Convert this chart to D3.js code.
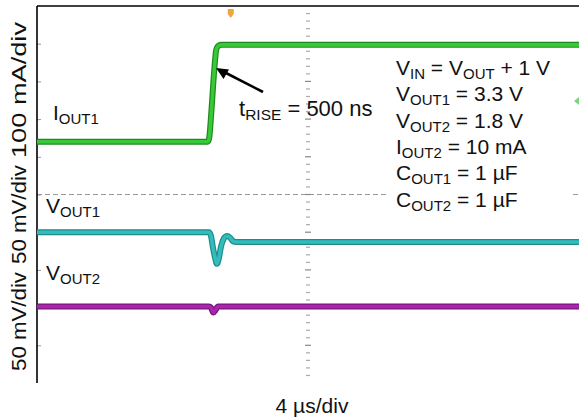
<!DOCTYPE html>
<html><head><meta charset="utf-8">
<script src="https://cdn.jsdelivr.net/npm/d3@7"></script>
<style>
html,body{margin:0;padding:0;background:#fff;}
svg{display:block;font-family:"Liberation Sans",Arial,Helvetica,sans-serif;}
</style></head>
<body>
<svg id="chart" width="579" height="420"></svg>
<script>
// ---- data (read from the scope capture) ----
// time in microseconds (4 us/div, 10 divisions)
const iout1Time = [0, 12.6, 12.7, 12.85, 13.0, 13.15, 13.22, 13.35, 13.6, 40];
const iout1mA   = [0, 0, 8, 70, 150, 220, 243, 253, 257, 257];

const vout1Time = [0, 12.69, 12.84, 12.99, 13.14, 13.28, 13.43, 13.58, 13.8, 14.02, 14.24, 14.47, 14.69, 40];
const vout1mV   = [0, 0, -5, -21, -34, -42, -34, -19, -8, -5, -7, -12, -13, -13];

const vout2Time = [0, 12.69, 12.84, 13.01, 13.17, 13.36, 40];
const vout2mV   = [0, 0, -1.5, -8, -5, 0, 0];

const yAxisLabels = ["100 mA/div", "50 mV/div", "50 mV/div"];
const xAxisLabel = "4 \u00b5s/div";
const noteLines = [
  [["V",0],["IN",1],[" = V",0],["OUT",1],[" + 1 V",0]],
  [["V",0],["OUT1",1],[" = 3.3 V",0]],
  [["V",0],["OUT2",1],[" = 1.8 V",0]],
  [["I",0],["OUT2",1],[" = 10 mA",0]],
  [["C",0],["OUT1",1],[" = 1 \u00b5F",0]],
  [["C",0],["OUT2",1],[" = 1 \u00b5F",0]]
];

// ---- layout ----
const L = 37, R = 579, T = 6, B = 383;
const divs = 10;
const svg = d3.select("#chart");

const x = d3.scaleLinear().domain([0, 40]).range([L, R]);
const yDiv = d3.scaleLinear().domain([0, divs]).range([B, T]);
function chanScale(offsetDiv, perDiv) {
  return d3.scaleLinear().domain([-offsetDiv * perDiv, (divs - offsetDiv) * perDiv]).range([B, T]);
}
const yI1 = chanScale(6.4, 100);
const yV1 = chanScale(4.0, 50);
const yV2 = chanScale(2.03, 50);

// ---- grid marks ----
svg.append("line").attr("x1", L).attr("x2", R).attr("y1", yDiv(5)).attr("y2", yDiv(5))
  .attr("stroke", "#9a9a9a").attr("stroke-width", 1).attr("stroke-dasharray", "5,3");
const cx = x(20);
svg.append("g").selectAll("line").data(d3.range(1, 50)).join("line")
  .attr("x1", d => cx - (d % 5 === 0 ? 3 : 2)).attr("x2", d => cx + (d % 5 === 0 ? 3 : 2))
  .attr("y1", d => yDiv(d / 5)).attr("y2", d => yDiv(d / 5))
  .attr("stroke", d => d % 5 === 0 ? "#888" : "#aaa").attr("stroke-width", 1.2);

const axL = d3.axisRight(yDiv).tickValues(d3.range(1, 10)).tickSize(4).tickFormat("");
const gAx = svg.append("g").attr("transform", `translate(${L},0)`).call(axL);
gAx.select(".domain").remove();
gAx.selectAll(".tick line").attr("stroke", "#999");

// frame
svg.append("line").attr("x1", L).attr("x2", R).attr("y1", T).attr("y2", T).attr("stroke", "#000").attr("stroke-width", 1.6);
svg.append("line").attr("x1", L).attr("x2", L).attr("y1", T).attr("y2", B).attr("stroke", "#000").attr("stroke-width", 1.6);

// annotation background
svg.append("rect").attr("x", 386).attr("y", 52).attr("width", 184).attr("height", 162).attr("fill", "#fff");

// ---- traces ----
function drawTrace(times, vals, yS, dark, light) {
  const pts = times.map((t, i) => [t, vals[i]]);
  const line = d3.line().x(d => x(d[0])).y(d => yS(d[1])).curve(d3.curveMonotoneX);
  svg.append("path").datum(pts).attr("d", line).attr("fill", "none")
    .attr("stroke", dark).attr("stroke-width", 6).attr("stroke-linejoin", "round");
  svg.append("path").datum(pts).attr("d", line).attr("fill", "none")
    .attr("stroke", light).attr("stroke-width", 3.6).attr("stroke-linejoin", "round");
}
drawTrace(iout1Time, iout1mA, yI1, "#1d8a1d", "#38c838");
drawTrace(vout1Time, vout1mV, yV1, "#1f8c8c", "#33bcbc");
drawTrace(vout2Time, vout2mV, yV2, "#7a1580", "#a826ab");

// trigger marker and channel marker
svg.append("path").attr("d", `M${x(14.3)-3},9 h6 v5 l-3,4 l-3,-4 z`).attr("fill", "#f0a63c");
svg.append("path").attr("d", `M${R},97 l-5,4 l5,4 z`).attr("fill", "#7fd27f");

// ---- text ----
function label(xp, yp, parts, big, small) {
  big = big || 21; small = small || 15;
  const t = svg.append("text").attr("x", xp).attr("y", yp).attr("fill", "#111");
  let down = false;
  parts.forEach(([s, sub]) => {
    const sp = t.append("tspan").text(s).attr("font-size", sub ? small : big);
    if (sub && !down) { sp.attr("dy", 4); down = true; }
    else if (!sub && down) { sp.attr("dy", -4); down = false; }
  });
  return t;
}
label(53, 120, [["I",0],["OUT1",1]]);
label(46, 213, [["V",0],["OUT1",1]]);
label(46, 280, [["V",0],["OUT2",1]]);
label(239, 116, [["t",0],["RISE",1],[" = 500 ns",0]], 22, 15.5);
noteLines.forEach((ln, i) => label(396, 75 + i * 26.3, ln));

// arrow for t_RISE
svg.append("line").attr("x1", 263).attr("y1", 92).attr("x2", 226).attr("y2", 73)
  .attr("stroke", "#000").attr("stroke-width", 2.6);
svg.append("path").attr("d", "M216,68 L229,69.5 L223.5,79 Z").attr("fill", "#000");

// axis titles (start at the bottom end, read upward)
const yLabPos = [[158, 136], [264, 99], [371, 99]];
yAxisLabels.forEach((s, i) => {
  svg.append("text").attr("transform", `translate(26,${yLabPos[i][0]}) rotate(-90)`)
    .attr("text-anchor", "start").attr("font-size", 20).attr("fill", "#111")
    .attr("textLength", yLabPos[i][1]).attr("lengthAdjust", "spacingAndGlyphs").text(s);
});
svg.append("text").attr("x", 312).attr("y", 413).attr("text-anchor", "middle")
  .attr("font-size", 21).attr("fill", "#111").text(xAxisLabel);
</script>
</body></html>
